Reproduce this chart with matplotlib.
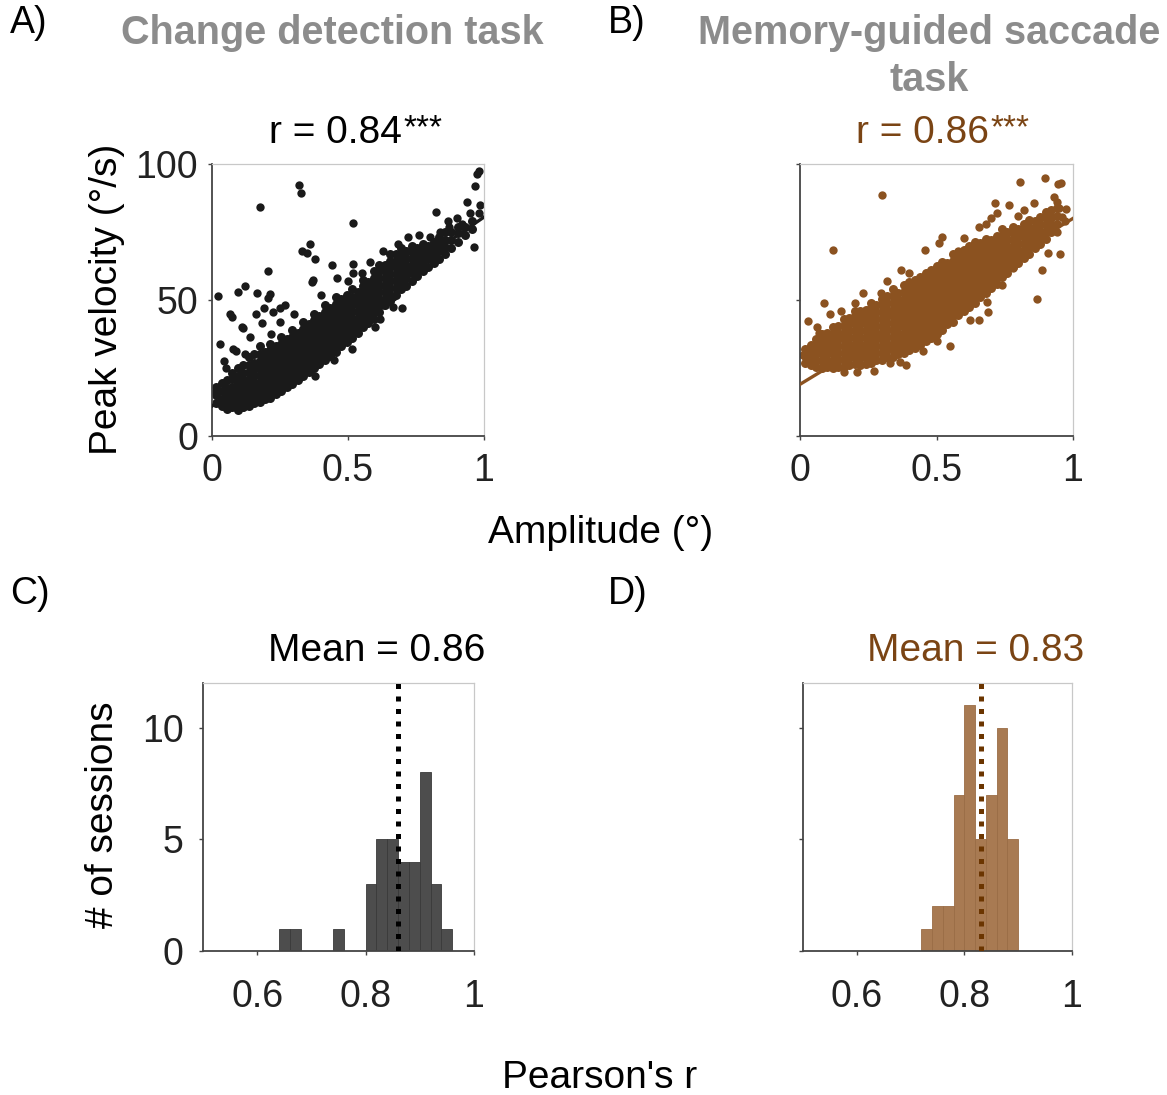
import matplotlib
matplotlib.use('Agg')
import matplotlib.pyplot as plt

plt.rcParams['font.family'] = ['Liberation Sans', 'DejaVu Sans']

# ---- data ----
# panel A: change detection task, columns of (amplitude, [peak velocities])
cloud_a = [
    (0.015, [12, 15, 18]),
    (0.035, [11, 13.5, 16.5, 19.5]),
    (0.055, [10, 12.5, 15, 17.5, 20.5]),
    (0.075, [10.5, 13, 15.5, 18, 21, 23]),
    (0.095, [9.5, 12, 14.5, 17, 19.5, 22, 25]),
    (0.115, [10.5, 13, 15.5, 18, 20.5, 23, 26]),
    (0.135, [11, 13.5, 16, 18.5, 21, 23.5, 26, 29]),
    (0.155, [12, 14.5, 17, 19.5, 22, 24.5, 27, 30]),
    (0.175, [12.5, 15, 17.5, 20, 22.5, 25, 27.5, 30, 33]),
    (0.195, [13.5, 16, 18.5, 21, 23.5, 26, 28.5, 31]),
    (0.215, [14, 16.5, 19, 21.5, 24, 26.5, 29, 31.5, 34]),
    (0.235, [15.5, 18, 20.5, 23, 25.5, 28, 30.5, 33]),
    (0.255, [16.5, 19, 21.5, 24, 26.5, 29, 31.5, 34, 36.5]),
    (0.275, [18, 20.5, 23, 25.5, 28, 30.5, 33, 35.5]),
    (0.295, [19, 21.5, 24, 26.5, 29, 31.5, 34, 36.5, 39]),
    (0.315, [20.5, 23, 25.5, 28, 30.5, 33, 35.5, 38]),
    (0.335, [22, 24.5, 27, 29.5, 32, 34.5, 37, 39.5, 42]),
    (0.355, [23.5, 26, 28.5, 31, 33.5, 36, 38.5, 41]),
    (0.375, [25, 27.5, 30, 32.5, 35, 37.5, 40, 42.5, 45]),
    (0.395, [26.5, 29, 31.5, 34, 36.5, 39, 41.5, 44]),
    (0.415, [28, 30.5, 33, 35.5, 38, 40.5, 43, 45.5, 48]),
    (0.435, [29.5, 32, 34.5, 37, 39.5, 42, 44.5, 47]),
    (0.455, [31, 33.5, 36, 38.5, 41, 43.5, 46, 48.5, 51]),
    (0.475, [33, 35.5, 38, 40.5, 43, 45.5, 48, 50.5]),
    (0.495, [34.5, 37, 39.5, 42, 44.5, 47, 49.5, 52]),
    (0.515, [36, 38.5, 41, 43.5, 46, 48.5, 51, 54]),
    (0.535, [38, 40.5, 43, 45.5, 48, 50.5, 53]),
    (0.555, [40, 42.5, 45, 47.5, 50, 52.5, 55, 57.5]),
    (0.575, [41.5, 44, 46.5, 49, 51.5, 54, 56.5]),
    (0.595, [43, 45.5, 48, 50.5, 53, 55.5, 58, 60.5]),
    (0.615, [45.5, 48, 50.5, 53, 55.5, 58, 60.5, 63]),
    (0.635, [48, 50.5, 53, 55.5, 58, 60.5, 63]),
    (0.655, [49.5, 52, 54.5, 57, 59.5, 62, 64.5, 67]),
    (0.675, [52, 54.5, 57, 59.5, 62, 64.5, 67]),
    (0.695, [54, 56.5, 59, 61.5, 64, 66.5, 69]),
    (0.715, [55, 58, 60.5, 63, 65.5, 68]),
    (0.735, [57, 60, 62.5, 65, 67.5, 70]),
    (0.755, [59, 61.5, 64, 66.5, 69]),
    (0.775, [60.5, 63, 65.5, 68, 70.5]),
    (0.795, [62, 65, 67.5, 70]),
    (0.815, [63.5, 66, 69, 71.5]),
    (0.835, [65, 68, 70.5, 73]),
    (0.855, [67, 69.5, 72, 75]),
    (0.88, [69, 72, 75]),
    (0.905, [71.5, 74.5, 77]),
    (0.93, [74, 77]),
    (0.955, [76, 79]),
]
outliers_a = [
    (0.983, 97.5), (0.975, 96.5), (0.967, 91.9), (0.319, 92.3), (0.327, 89.5),
    (0.176, 84.3), (0.52, 78.4), (0.936, 86.2), (0.985, 84.9), (0.983, 81.9),
    (0.824, 82.4), (0.866, 79.2), (0.963, 69.6), (0.36, 70.5), (0.33, 68.1),
    (0.35, 67.2), (0.379, 65), (0.44, 62.9), (0.52, 63.2), (0.207, 60.8),
    (0.366, 56.7), (0.37, 57.5), (0.121, 55.1), (0.094, 53), (0.164, 52.7),
    (0.023, 51.6), (0.213, 52.2), (0.207, 50.6), (0.19, 47), (0.25, 47),
    (0.225, 45.7), (0.16, 45), (0.066, 44.9), (0.072, 43.9), (0.11, 40.2),
    (0.115, 39.6), (0.183, 41.7), (0.14, 36.5), (0.216, 37.4), (0.029, 33.7),
    (0.078, 31.9), (0.09, 31.1), (0.044, 27.7), (0.513, 31.9), (0.618, 42.9),
    (0.667, 47.3), (0.697, 47.2), (0.63, 48), (0.667, 51.2), (0.706, 56.4),
    (0.011, 16), (0.06, 10.4), (0.115, 10.8), (0.685, 70.5), (0.80, 73.3),
    (0.838, 75.1), (0.87, 77), (0.9, 80), (0.92, 78), (0.95, 82),
    (0.52, 60), (0.46, 58), (0.27, 48), (0.3, 45), (0.4, 52), (0.55, 60),
    (0.58, 64), (0.63, 68), (0.72, 73), (0.76, 74), (0.5, 57), (0.12, 30),
    (0.05, 25), (0.25, 42), (0.6, 40), (0.45, 28), (0.38, 22),
]
fit_a = [11, 80.5]   # regression line value at amplitude 0 and 1

# panel B: memory-guided saccade task
cloud_b = [
    (0.02, [27, 29.5, 32]),
    (0.04, [26, 28.5, 31, 33.5]),
    (0.06, [25.5, 28, 30.5, 33, 35.5]),
    (0.08, [25, 27.5, 30, 32.5, 35, 37.5]),
    (0.10, [25.5, 28, 30.5, 33, 35.5, 38]),
    (0.12, [25, 27.5, 30, 32.5, 35, 37.5, 40]),
    (0.14, [25.5, 28, 30.5, 33, 35.5, 38, 40.5]),
    (0.16, [25.5, 28, 30.5, 33, 35.5, 38, 40.5, 43]),
    (0.18, [26, 28.5, 31, 33.5, 36, 38.5, 41, 43.5]),
    (0.20, [26.5, 29, 31.5, 34, 36.5, 39, 41.5, 44, 46]),
    (0.22, [26, 28.5, 31, 33.5, 36, 38.5, 41, 43.5, 46]),
    (0.24, [26.5, 29, 31.5, 34, 36.5, 39, 41.5, 44, 46.5]),
    (0.26, [27, 29.5, 32, 34.5, 37, 39.5, 42, 44.5, 47, 49]),
    (0.28, [28, 30.5, 33, 35.5, 38, 40.5, 43, 45.5, 48]),
    (0.30, [28, 30.5, 33, 35.5, 38, 40.5, 43, 45.5, 48, 50.5]),
    (0.32, [29, 31.5, 34, 36.5, 39, 41.5, 44, 46.5, 49, 51.5]),
    (0.34, [29, 31.5, 34, 36.5, 39, 41.5, 44, 46.5, 49, 51.5, 54]),
    (0.36, [30, 32.5, 35, 37.5, 40, 42.5, 45, 47.5, 50, 52.5]),
    (0.38, [30.5, 33, 35.5, 38, 40.5, 43, 45.5, 48, 50.5, 53, 55.5]),
    (0.40, [31.5, 34, 36.5, 39, 41.5, 44, 46.5, 49, 51.5, 54, 56.5]),
    (0.42, [32.5, 35, 37.5, 40, 42.5, 45, 47.5, 50, 52.5, 55, 57.5]),
    (0.44, [33.5, 36, 38.5, 41, 43.5, 46, 48.5, 51, 53.5, 56, 58.5]),
    (0.46, [35, 37.5, 40, 42.5, 45, 47.5, 50, 52.5, 55, 57.5, 60]),
    (0.48, [36, 38.5, 41, 43.5, 46, 48.5, 51, 53.5, 56, 58.5, 61]),
    (0.50, [37.5, 40, 42.5, 45, 47.5, 50, 52.5, 55, 57.5, 60, 62.5]),
    (0.52, [39, 41.5, 44, 46.5, 49, 51.5, 54, 56.5, 59, 61.5, 64]),
    (0.54, [41, 43.5, 46, 48.5, 51, 53.5, 56, 58.5, 61, 63.5]),
    (0.56, [42, 44.5, 47, 49.5, 52, 54.5, 57, 59.5, 62, 64.5, 67]),
    (0.58, [44.5, 47, 49.5, 52, 54.5, 57, 59.5, 62, 64.5, 67]),
    (0.60, [46, 48.5, 51, 53.5, 56, 58.5, 61, 63.5, 66, 68.5]),
    (0.62, [47.5, 50, 52.5, 55, 57.5, 60, 62.5, 65, 67.5, 70]),
    (0.64, [49, 51.5, 54, 56.5, 59, 61.5, 64, 66.5, 69, 71.5]),
    (0.66, [51, 53.5, 56, 58.5, 61, 63.5, 66, 68.5, 71]),
    (0.68, [52.5, 55, 57.5, 60, 62.5, 65, 67.5, 70, 72.5]),
    (0.70, [54.5, 57, 59.5, 62, 64.5, 67, 69.5, 72]),
    (0.72, [56, 58.5, 61, 63.5, 66, 68.5, 71, 73.5]),
    (0.74, [58.5, 61, 63.5, 66, 68.5, 71, 73.5, 76]),
    (0.76, [60, 62.5, 65, 67.5, 70, 72.5, 75]),
    (0.78, [62, 64.5, 67, 69.5, 72, 74.5, 77]),
    (0.80, [63.5, 66, 68.5, 71, 73.5, 76]),
    (0.82, [65.5, 68, 70.5, 73, 75.5, 78]),
    (0.84, [67, 69.5, 72, 74.5, 77, 79.5]),
    (0.86, [69, 71.5, 74, 76.5, 79]),
    (0.88, [70.5, 73, 75.5, 78, 80.5]),
    (0.90, [72.5, 75, 77.5, 80, 82.5]),
    (0.92, [75, 77.5, 80, 83]),
    (0.94, [78, 81, 84]),
]
outliers_b = [
    (0.30, 88.6), (0.12, 68.4), (0.807, 93.5), (0.899, 94.7), (0.945, 92.5),
    (0.955, 93), (0.868, 50.2), (0.886, 61), (0.91, 67.2), (0.953, 66.8),
    (0.715, 85.5), (0.764, 84.9), (0.856, 85.5), (0.93, 88), (0.94, 86),
    (0.976, 83.3), (0.95, 84), (0.915, 81), (0.96, 80.5), (0.458, 68.4),
    (0.52, 73), (0.51, 71), (0.6, 72.7), (0.318, 57.1), (0.232, 52.5),
    (0.296, 52.5), (0.089, 48.8), (0.03, 42.4), (0.061, 40.2), (0.012, 29.8),
    (0.049, 28.6), (0.45, 31.4), (0.367, 27.3), (0.33, 26.7), (0.69, 45.7),
    (0.623, 42.6), (0.654, 42.6), (0.685, 49.4), (0.74, 55.5), (0.78, 61.6),
    (0.7, 80), (0.68, 78), (0.655, 77), (0.82, 83), (0.8, 81), (0.72, 82),
    (0.94, 75), (0.97, 79), (0.11, 45), (0.15, 46), (0.07, 38), (0.4, 60),
    (0.37, 61), (0.2, 49), (0.55, 33), (0.5, 35), (0.27, 24), (0.16, 23.5),
    (0.21, 23.5), (0.58, 68), (0.39, 26),
]
fit_b = [19, 80]

# panels C/D: histograms of per-session Pearson's r (bin width 0.02)
bin_w = 0.02
edges_c = [0.64, 0.66, 0.74, 0.80, 0.82, 0.84, 0.86, 0.88, 0.90, 0.92, 0.94]
counts_c = [1, 1, 1, 3, 5, 5, 4, 4, 8, 3, 1]
mean_c = 0.86
edges_d = [0.72, 0.74, 0.76, 0.78, 0.80, 0.82, 0.84, 0.86, 0.88]
counts_d = [1, 2, 2, 7, 11, 5, 7, 10, 5]
mean_d = 0.83

BLACK = '#1a1a1a'
BROWN = '#8b5220'
BROWN_TXT = '#7a4414'
BROWN_BAR = '#a87a52'
GRAY_BAR = '#4d4d4d'
TITLE_GRAY = '#8c8c8c'

W, H = 1167, 1095
fig = plt.figure(figsize=(W / 100, H / 100), dpi=100)


def px_axes(x0, y0, x1, y1):
    return fig.add_axes([x0 / W, 1 - y1 / H, (x1 - x0) / W, (y1 - y0) / H])


def style(ax):
    for s in ['left', 'bottom']:
        ax.spines[s].set_color('#444444')
        ax.spines[s].set_linewidth(1.3)
    for s in ['top', 'right']:
        ax.spines[s].set_color('#c8c8c8')
        ax.spines[s].set_linewidth(0.9)
    ax.tick_params(direction='out', length=3, width=1, colors='#444444',
                   labelcolor='#222222', labelsize=27)


def flatten(cloud):
    xs, ys = [], []
    for amp, vels in cloud:
        for v in vels:
            xs.append(amp)
            ys.append(v)
    return xs, ys


def r_label(ax, x, s, color):
    t = ax.text(x, 1.115, s, transform=ax.transAxes, ha='center',
                va='center', fontsize=28, color=color)
    ax.annotate('***', xy=(1, 1), xycoords=t, xytext=(1.5, 1),
                textcoords='offset points', ha='left', va='top',
                fontsize=24, color=color)


ax_a = px_axes(212, 164, 484, 436)
ax_b = px_axes(800, 164, 1073, 436)
for ax, cloud, extra, fit, col, lab in [
    (ax_a, cloud_a, outliers_a, fit_a, BLACK, True),
    (ax_b, cloud_b, outliers_b, fit_b, BROWN, False),
]:
    xs, ys = flatten(cloud)
    ax.scatter(xs, ys, s=42, color=col, linewidths=0, zorder=2)
    ox = [p[0] for p in extra]
    oy = [p[1] for p in extra]
    ax.scatter(ox, oy, s=36, color=col, linewidths=0, zorder=2)
    ax.plot([0, 1], fit, color=col, lw=2.4, zorder=3)
    ax.set_xlim(0, 1)
    ax.set_ylim(0, 100)
    ax.set_xticks([0, 0.5, 1])
    ax.set_xticklabels(['0', '0.5', '1'])
    ax.set_yticks([0, 50, 100])
    style(ax)
    ax.tick_params(axis='x', pad=9)
    ax.tick_params(axis='y', pad=7)
    if not lab:
        ax.set_yticklabels([])

r_label(ax_a, 0.452, 'r = 0.84', 'black')
r_label(ax_b, 0.447, 'r = 0.86', BROWN_TXT)

ax_c = px_axes(203, 683, 474, 951)
ax_d = px_axes(803, 683, 1072, 951)
for ax, edges, counts, m, fc, ec, lc, lab in [
    (ax_c, edges_c, counts_c, mean_c, GRAY_BAR, '#3a3a3a', 'black', True),
    (ax_d, edges_d, counts_d, mean_d, BROWN_BAR, '#9a6c45', '#6b3500', False),
]:
    ax.bar(edges, counts, width=bin_w, align='edge', color=fc,
           edgecolor=ec, linewidth=0.6, zorder=2)
    ax.plot([m, m], [0, 12], color=lc, lw=3.6, linestyle=(0, (1, 1.5)),
            zorder=3)
    ax.set_xlim(0.5, 1)
    ax.set_ylim(0, 12)
    ax.set_xticks([0.6, 0.8, 1])
    ax.set_xticklabels(['0.6', '0.8', '1'])
    ax.set_yticks([0, 5, 10])
    style(ax)
    ax.tick_params(axis='x', pad=17)
    ax.tick_params(axis='y', pad=11)
    if not lab:
        ax.set_yticklabels([])

ax_c.text(0.64, 1.12, 'Mean = %.2f' % mean_c, transform=ax_c.transAxes,
          ha='center', va='center', fontsize=28, color='black')
ax_d.text(0.64, 1.12, 'Mean = %.2f' % mean_d, transform=ax_d.transAxes,
          ha='center', va='center', fontsize=28, color=BROWN_TXT)


# figure-level labels
def ftext(x, y, s, **kw):
    fig.text(x / W, 1 - y / H, s, **kw)


ftext(10, 23, 'A)', ha='left', va='center', fontsize=27)
ftext(608, 23, 'B)', ha='left', va='center', fontsize=27)
ftext(10, 594, 'C)', ha='left', va='center', fontsize=27)
ftext(608, 594, 'D)', ha='left', va='center', fontsize=27)
ftext(332, 33, 'Change detection task', ha='center', va='center',
      fontsize=28.5, fontweight='bold', color=TITLE_GRAY)
ftext(929, 33, 'Memory-guided saccade', ha='center', va='center',
      fontsize=28.5, fontweight='bold', color=TITLE_GRAY)
ftext(929, 80, 'task', ha='center', va='center',
      fontsize=28.5, fontweight='bold', color=TITLE_GRAY)
ftext(107, 299, 'Peak velocity (°/s)', ha='center', va='center',
      rotation=90, fontsize=28)
ftext(601, 533, 'Amplitude (°)', ha='center', va='center', fontsize=28)
ftext(103, 815, '# of sessions', ha='center', va='center', rotation=90,
      fontsize=28)
ftext(600, 1078, "Pearson's r", ha='center', va='center', fontsize=28)

fig.savefig('out.png', dpi=100, facecolor='white')
